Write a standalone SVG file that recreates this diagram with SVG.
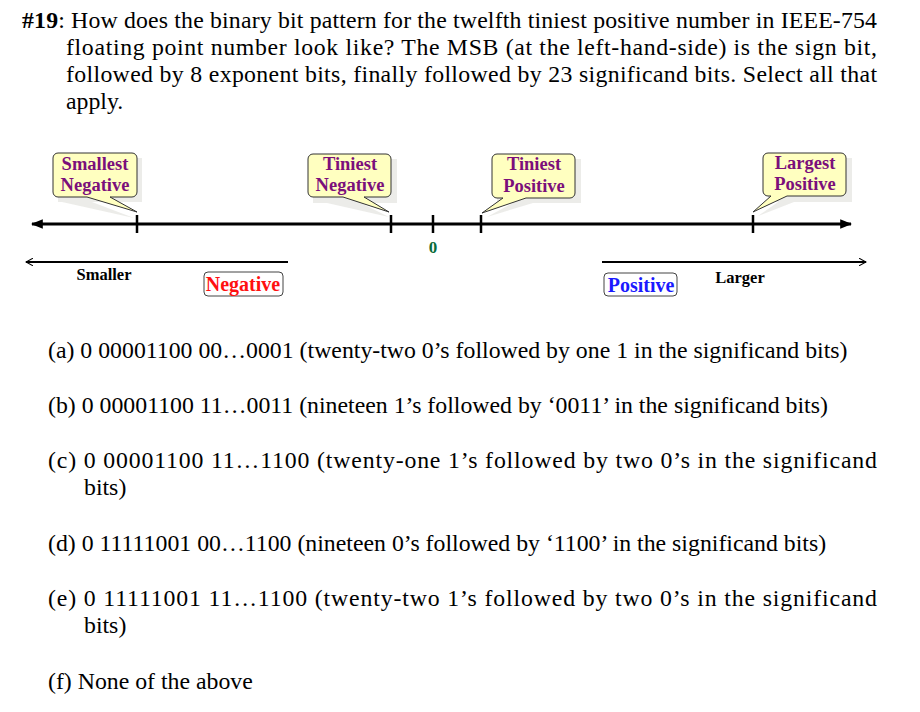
<svg xmlns="http://www.w3.org/2000/svg" width="920" height="712" viewBox="0 0 920 712">
<style>
.t{font-family:"Liberation Serif",serif;font-size:23.8px;fill:#000}
.c{font-family:"Liberation Serif",serif;font-size:18.5px;font-weight:bold;fill:#7b0f7b;text-anchor:middle}
.b{fill:#ffffc0;stroke:#333;stroke-width:1}
.sh{fill:#e4e4e0}
.ax{stroke:#000;stroke-width:3;fill:none}
.tk{stroke:#000;stroke-width:2.5}
.ln{stroke:#000;stroke-width:2;fill:none}
.s{font-family:"Liberation Serif",serif;font-size:16.5px;font-weight:bold;text-anchor:middle}
</style>
<defs>
<marker id="ah" viewBox="0 0 10 10" refX="9" refY="5" markerWidth="4" markerHeight="4" orient="auto-start-reverse"><path d="M0,1 L10,5 L0,9 Z" fill="#000"/></marker>
<marker id="oa" viewBox="0 0 12 12" refX="11" refY="6" markerWidth="8" markerHeight="8" markerUnits="userSpaceOnUse" orient="auto-start-reverse"><path d="M0,0 L11,6 L0,12" fill="none" stroke="#000" stroke-width="1.6"/></marker>
</defs>
<g id="question">
<text class="t" x="22" y="28" textLength="855" lengthAdjust="spacing"><tspan font-weight="bold">#19</tspan>: How does the binary bit pattern for the twelfth tiniest positive number in IEEE-754</text>
<text class="t" x="66" y="55" textLength="811" lengthAdjust="spacing">floating point number look like?  The MSB (at the left-hand-side) is the sign bit,</text>
<text class="t" x="66" y="82" textLength="811" lengthAdjust="spacing">followed by 8 exponent bits, finally followed by 23 significand bits.  Select all that</text>
<text class="t" x="66" y="109">apply.</text>
</g>
<g id="connectors">
<line class="ax" x1="32" y1="224" x2="851" y2="224" marker-start="url(#ah)" marker-end="url(#ah)"/>
<line class="tk" x1="137" y1="215" x2="137" y2="233"/>
<line class="tk" x1="391" y1="215" x2="391" y2="233"/>
<line class="tk" x1="433" y1="215" x2="433" y2="233"/>
<line class="tk" x1="481" y1="215" x2="481" y2="233"/>
<line class="tk" x1="753" y1="215" x2="753" y2="233"/>
<line class="ln" x1="288" y1="262" x2="26" y2="262" marker-end="url(#oa)"/>
<line class="ln" x1="602" y1="262" x2="866" y2="262" marker-end="url(#oa)"/>
</g>
<g id="smallest-negative">
<path class="sh" d="M58,158 h84 v44 h-50 l42,16 l-72,-16 h-4 z" opacity="0.7"/>
<path class="b" d="M58,153 h74 a5,5 0 0 1 5,5 v34 a5,5 0 0 1 -5,5 h-22 l27,15 l-50,-15 h-29 a5,5 0 0 1 -5,-5 v-34 a5,5 0 0 1 5,-5 z"/>
<text class="c" x="95" y="170">Smallest</text><text class="c" x="95" y="191">Negative</text>
</g>
<g id="tiniest-negative">
<path class="sh" d="M313,159 h84 v44 h-36 l28,14 l-62,-14 h-14 z" opacity="0.7"/>
<path class="b" d="M313,154 h73 a5,5 0 0 1 5,5 v33 a5,5 0 0 1 -5,5 h-22 l25,15 l-46,-15 h-30 a5,5 0 0 1 -5,-5 v-33 a5,5 0 0 1 5,-5 z"/>
<text class="c" x="350" y="170">Tiniest</text><text class="c" x="350" y="191">Negative</text>
</g>
<g id="tiniest-positive">
<path class="sh" d="M497,159 h84 v44 h-48 l-46,14 l26,-14 h-16 z" opacity="0.7"/>
<path class="b" d="M497,154 h73 a5,5 0 0 1 5,5 v34 a5,5 0 0 1 -5,5 h-44 l-44,15 l21,-15 h-6 a5,5 0 0 1 -5,-5 v-34 a5,5 0 0 1 5,-5 z"/>
<text class="c" x="534" y="170">Tiniest</text><text class="c" x="534" y="192">Positive</text>
</g>
<g id="largest-positive">
<path class="sh" d="M768,158 h84 v44 h-58 l-36,14 l20,-14 h-10 z" opacity="0.7"/>
<path class="b" d="M768,153 h73 a5,5 0 0 1 5,5 v33 a5,5 0 0 1 -5,5 h-54 l-34,16 l18,-16 h-3 a5,5 0 0 1 -5,-5 v-33 a5,5 0 0 1 5,-5 z"/>
<text class="c" x="805" y="169">Largest</text><text class="c" x="805" y="190">Positive</text>
</g>
<g id="zero"><text x="433" y="253" font-family="Liberation Serif,serif" font-size="17" font-weight="bold" fill="#0a6b3a" text-anchor="middle">0</text></g>
<g id="smaller"><text class="s" x="104" y="280">Smaller</text></g>
<g id="larger"><text class="s" x="740" y="283">Larger</text></g>
<g id="negative">
<rect x="204" y="272" width="79" height="24" rx="4" fill="#fff" stroke="#444" stroke-width="1"/>
<text x="243" y="291" font-family="Liberation Serif,serif" font-size="20" font-weight="bold" fill="#ff1010" text-anchor="middle">Negative</text>
</g>
<g id="positive">
<rect x="604" y="273" width="73" height="23" rx="4" fill="#fff" stroke="#444" stroke-width="1"/>
<text x="641" y="292" font-family="Liberation Serif,serif" font-size="20" font-weight="bold" fill="#1a1aff" text-anchor="middle">Positive</text>
</g>
<g id="options">
<text class="t" x="48" y="358">(a) 0 00001100 00…0001 (twenty-two 0’s followed by one 1 in the significand bits)</text>
<text class="t" x="48" y="413">(b) 0 00001100 11…0011 (nineteen 1’s followed by ‘0011’ in the significand bits)</text>
<text class="t" x="48" y="468" textLength="829" lengthAdjust="spacing">(c) 0 00001100 11…1100 (twenty-one 1’s followed by two 0’s in the significand</text>
<text class="t" x="84" y="495">bits)</text>
<text class="t" x="48" y="551">(d) 0 11111001 00…1100 (nineteen 0’s followed by ‘1100’ in the significand bits)</text>
<text class="t" x="48" y="606" textLength="829" lengthAdjust="spacing">(e) 0 11111001 11…1100 (twenty-two 1’s followed by two 0’s in the significand</text>
<text class="t" x="84" y="633">bits)</text>
<text class="t" x="48" y="689">(f) None of the above</text>
</g>
</svg>
